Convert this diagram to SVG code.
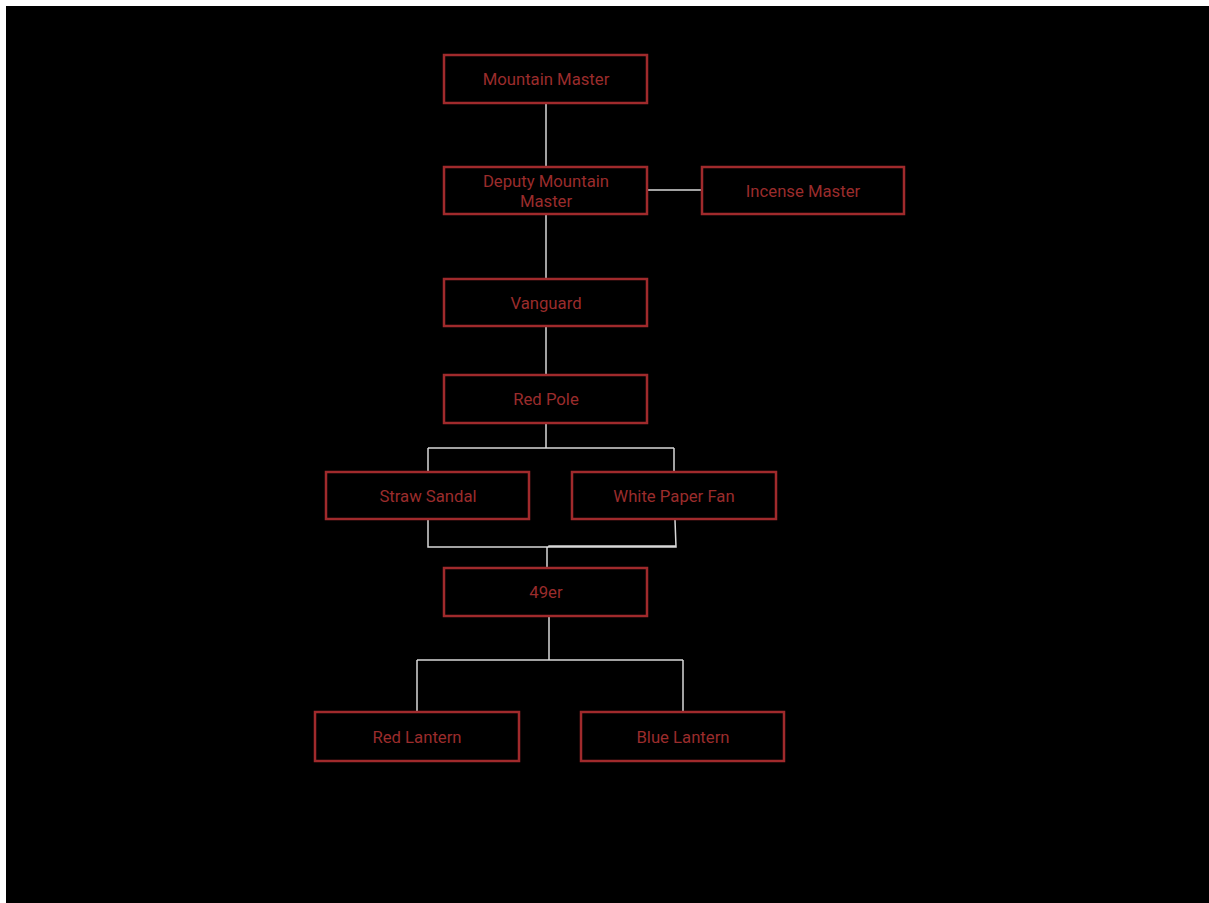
<svg xmlns="http://www.w3.org/2000/svg" width="1209" height="903" viewBox="0 0 1209 903">
<style>
.node rect{fill:#000;stroke:#a02a2c;stroke-width:2.5}
.node text{fill:#9a2c2c;font-family:Roboto,"Liberation Sans",sans-serif;font-size:16.7px;text-anchor:middle}
.conn path{fill:none;stroke:#d8d8d8;stroke-width:1.5}
</style>
<rect x="0" y="0" width="1209" height="903" fill="#fff"/>
<rect x="6" y="6" width="1203" height="897" fill="#000"/>
<g class="conn" id="connectors">
<path d="M546 103V166"/>
<path d="M648 190H702"/>
<path d="M546 215V278"/>
<path d="M546 326V375"/>
<path d="M546 423V448M428 448H674M428 448V471M674 448V471"/>
<path d="M428 520V547H676L675 520M676 546H549L547 548V568"/>
<path d="M549 617V660M417 660H683M417 660V711M683 660V711"/>
</g>
<g class="node" id="mountain-master"><rect x="444" y="55" width="203" height="48"/><text x="546" y="85">Mountain Master</text></g>
<g class="node" id="deputy-mountain-master"><rect x="444" y="167" width="203" height="47"/><text x="546" y="187">Deputy Mountain</text><text x="546" y="207">Master</text></g>
<g class="node" id="incense-master"><rect x="702" y="167" width="202" height="47"/><text x="803" y="197">Incense Master</text></g>
<g class="node" id="vanguard"><rect x="444" y="279" width="203" height="47"/><text x="546" y="309">Vanguard</text></g>
<g class="node" id="red-pole"><rect x="444" y="375" width="203" height="48"/><text x="546" y="405">Red Pole</text></g>
<g class="node" id="straw-sandal"><rect x="326" y="472" width="203" height="47"/><text x="428" y="502">Straw Sandal</text></g>
<g class="node" id="white-paper-fan"><rect x="572" y="472" width="204" height="47"/><text x="674" y="502">White Paper Fan</text></g>
<g class="node" id="forty-niner"><rect x="444" y="568" width="203" height="48"/><text x="546" y="598">49er</text></g>
<g class="node" id="red-lantern"><rect x="315" y="712" width="204" height="49"/><text x="417" y="743">Red Lantern</text></g>
<g class="node" id="blue-lantern"><rect x="581" y="712" width="203" height="49"/><text x="683" y="743">Blue Lantern</text></g>
</svg>
